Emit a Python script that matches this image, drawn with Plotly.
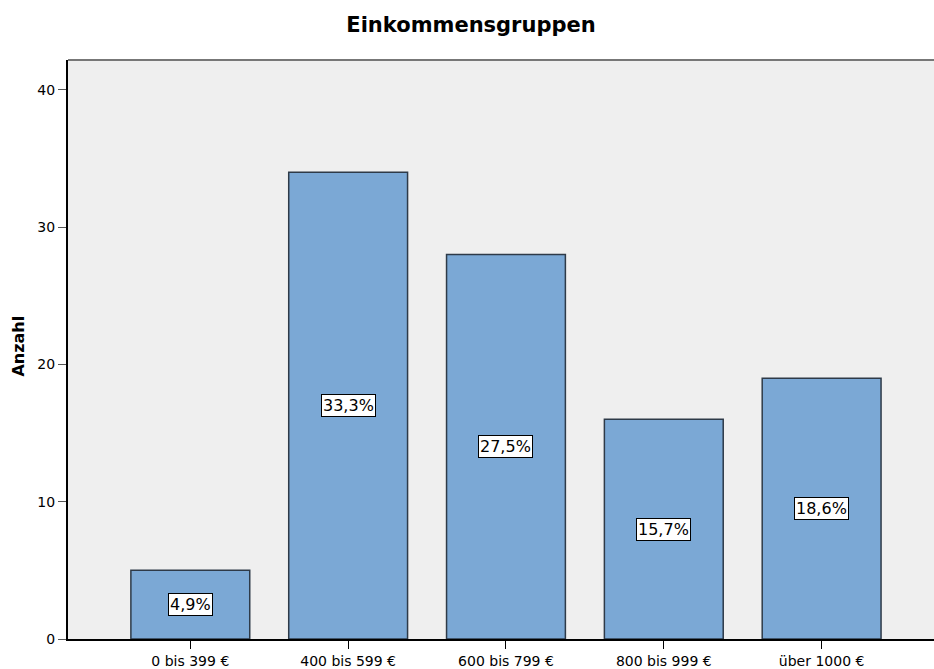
import plotly.graph_objects as go

categories = ["0 bis 399 €", "400 bis 599 €", "600 bis 799 €", "800 bis 999 €", "über 1000 €"]
counts = [5, 34, 28, 16, 19]
pct_labels = ["4,9%", "33,3%", "27,5%", "15,7%", "18,6%"]
y_ticks = [0, 10, 20, 30, 40]

W, H = 934, 669
ML, MR, MT, MB = 68, 0, 60, 27
PW = W - ML - MR
PH = H - MT - MB
FONT = "DejaVu Sans, Verdana, sans-serif"

fig = go.Figure()
fig.add_trace(go.Bar(
    x=list(range(len(categories))),
    y=counts,
    width=0.753,
    marker=dict(color="#7BA8D5", line=dict(color="#2e3a48", width=1.5)),
    hoverinfo="skip",
))

for i, (c, lab) in enumerate(zip(counts, pct_labels)):
    fig.add_annotation(
        x=i, y=c / 2, xref="x", yref="y", text=lab, showarrow=False,
        font=dict(family=FONT, size=16, color="black"),
        bgcolor="white", bordercolor="black", borderwidth=1, borderpad=1,
    )

fig.add_annotation(
    x=-(ML - 19) / PW, y=(642 - 348) / PH,
    xref="paper", yref="paper", text="<b>Anzahl</b>", textangle=-90, showarrow=False,
    xanchor="center", yanchor="middle",
    font=dict(family=FONT, size=16, color="black"),
)

# top border of plot area
fig.add_shape(type="line", xref="paper", yref="paper", x0=0, x1=1, y0=1, y1=1,
              line=dict(color="#777777", width=2))

fig.update_layout(
    width=W, height=H,
    margin=dict(l=ML, r=MR, t=MT, b=MB),
    paper_bgcolor="white",
    plot_bgcolor="#EFEFEF",
    showlegend=False,
    title=dict(text="<b>Einkommensgruppen</b>", x=471 / W, xref="container",
               y=1 - 25 / H, yref="container", xanchor="center", yanchor="middle",
               font=dict(family=FONT, size=21, color="black")),
    xaxis=dict(
        tickmode="array", tickvals=list(range(len(categories))), ticktext=categories,
        range=[-0.775, 4.712], showgrid=False, zeroline=False,
        showline=True, linecolor="black", linewidth=2,
        ticks="outside", ticklen=8, tickwidth=1, tickcolor="black",
        tickfont=dict(family=FONT, size=14, color="black"),
    ),
    yaxis=dict(
        range=[0, 42.17], tickvals=y_ticks, showgrid=False, zeroline=False,
        showline=True, linecolor="black", linewidth=2,
        ticks="outside", ticklen=8, tickwidth=1, tickcolor="#555555",
        tickfont=dict(family=FONT, size=14, color="black"),
    ),
)

fig.write_html(
    "out.html",
    config={"displayModeBar": False},
    post_script="document.body.style.margin='0';document.body.style.overflow='hidden';"
                "document.documentElement.style.overflow='hidden';",
)
